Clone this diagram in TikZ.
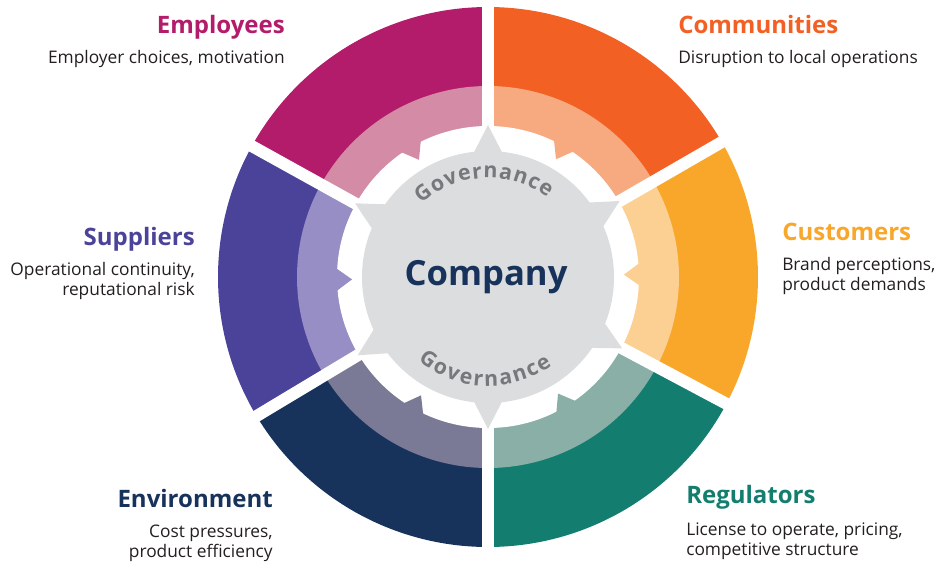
\documentclass[tikz,border=0pt]{standalone}
\usepackage{fontspec}
\setmainfont{Open Sans}
\usetikzlibrary{decorations.text}
\definecolor{empdark}{HTML}{B31B6B}
\definecolor{emplight}{HTML}{D48BA5}
\definecolor{comdark}{HTML}{F26024}
\definecolor{comlight}{HTML}{F7A97F}
\definecolor{cusdark}{HTML}{F9A72B}
\definecolor{cuslight}{HTML}{FCD092}
\definecolor{regdark}{HTML}{137E6F}
\definecolor{reglight}{HTML}{8AAFA6}
\definecolor{envdark}{HTML}{18335B}
\definecolor{envlight}{HTML}{7B7A96}
\definecolor{supdark}{HTML}{4A4399}
\definecolor{suplight}{HTML}{968EC4}
\definecolor{hubgray}{HTML}{DCDDDF}
\definecolor{govgray}{HTML}{76787B}
\definecolor{textgray}{HTML}{231F20}
\newcommand{\govfont}{\fontsize{16}{18}\selectfont\bfseries}

\begin{document}
\begin{tikzpicture}[x=0.75pt, y=0.75pt,
  title/.style={font=\fontsize{18}{21}\selectfont\bfseries, inner sep=0pt},
  desc/.style={font=\fontsize{13}{15}\selectfont, text=textgray, inner sep=0pt}]
\useasboundingbox (-488,-285) rectangle (448,277);
% outer and inner ring segments
\foreach \a/\b/\dark/\light in {90/151/empdark/emplight, 151/211/supdark/suplight,
  211/270/envdark/envlight, 270/332/regdark/reglight,
  -28/30/cusdark/cuslight, 30/90/comdark/comlight}{
  \fill[\dark] (0,0) -- (\a:270) arc[start angle=\a, end angle=\b, radius=270] -- cycle;
  \fill[\light] (0,0) -- (\a:191) arc[start angle=\a, end angle=\b, radius=191] -- cycle;
}
% white band round the hub
\fill[white] (0,0) circle[radius=151];
% teeth of the inner ring
\foreach \a/\b/\light in {90/151/emplight, 151/211/suplight, 211/270/envlight,
  270/332/reglight, -28/30/cuslight, 30/90/comlight}{
  \pgfmathsetmacro{\m}{(\a+\b)/2}
  \fill[\light] (\m-4.5:153) -- (\m:136) -- (\m+4.5:153) -- cycle;
}
% gaps between segments
\foreach \g in {90,151,211,270,332,30}
  \draw[white, line width=9pt] (0,0) -- (\g:280);
% hub with its points
\fill[hubgray] (0,0) circle[radius=126];
\foreach \g in {90,151,211,270,332,30}
  \fill[hubgray] (\g-7.5:122) -- (\g:152) -- (\g+7.5:122) -- cycle;
% hub texts
\node[font=\fontsize{26}{30}\selectfont\bfseries, text=envdark, inner sep=0pt, anchor=base]
  (company) at (-2,-8) {Company};
\path[decorate, decoration={text along path, text={|\govfont|Governance},
  text align=fit to path, text color=govgray}]
  (132:99) arc[start angle=132, end angle=53, radius=99];
\path[decorate, decoration={text along path, text={|\govfont|Governance},
  text align=fit to path, text color=govgray}]
  (230:109) arc[start angle=230, end angle=306, radius=109];
% stakeholder labels
\node[title, text=empdark, anchor=base east] (emp) at (-203,244) {Employees};
\node[desc, anchor=base east] (empdesc) at (-203,214) {Employer choices, motivation};
\node[title, text=comdark, anchor=base west] (com) at (190,244) {Communities};
\node[desc, anchor=base west] (comdesc) at (190,214) {Disruption to local operations};
\node[title, text=supdark, anchor=base east] (sup) at (-293,32) {Suppliers};
\node[desc, anchor=base east, align=right] (supdesc) at (-293,-18)
  {Operational continuity,\\reputational risk};
\node[title, text=cusdark, anchor=base west] (cus) at (294,37) {Customers};
\node[desc, anchor=base west, align=left] (cusdesc) at (294,-13)
  {Brand perceptions,\\product demands};
\node[title, text=envdark, anchor=base east] (env) at (-215,-230) {Environment};
\node[desc, anchor=base east, align=right] (envdesc) at (-215,-280)
  {Cost pressures,\\product efficiency};
\node[title, text=regdark, anchor=base west] (reg) at (198,-226) {Regulators};
\node[desc, anchor=base west, align=left] (regdesc) at (198,-278)
  {License to operate, pricing,\\competitive structure};
\end{tikzpicture}
\end{document}
